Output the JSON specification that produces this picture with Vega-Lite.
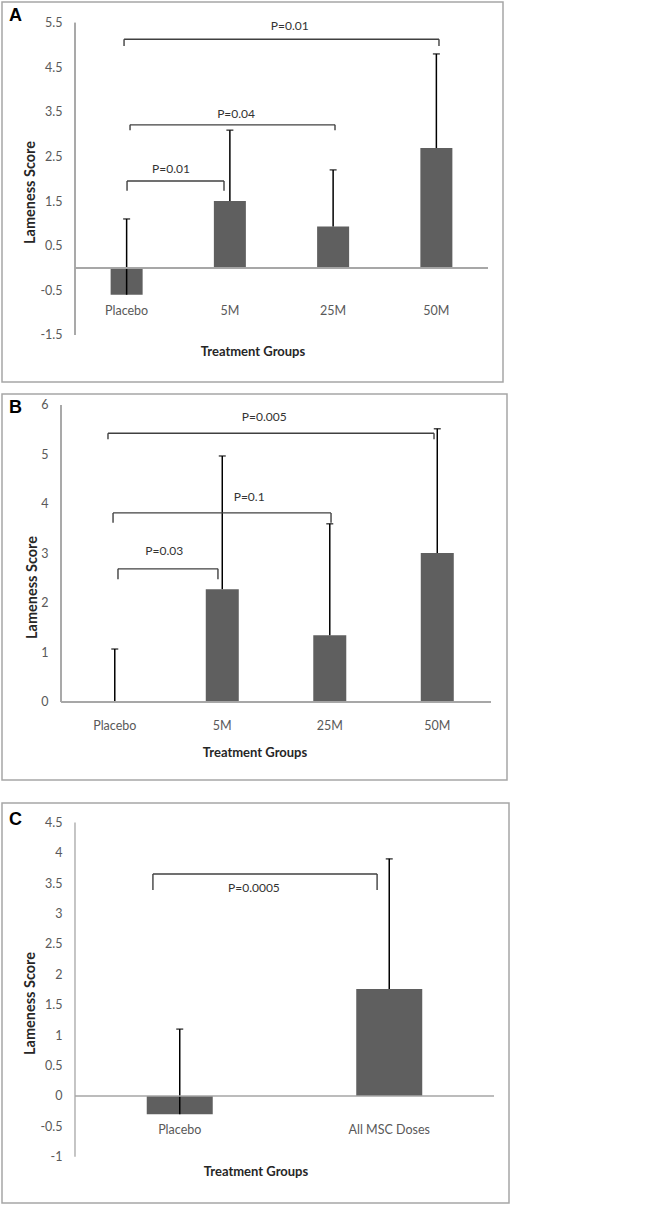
{
  "$schema": "https://vega.github.io/schema/vega-lite/v6.json",
  "background": "white",
  "padding": {"left": 1, "top": 1, "right": 0, "bottom": 0},
  "config": {
    "view": {"stroke": "#a6a6a6", "strokeWidth": 1.5},
    "axis": {"labelFont": "Lato", "labelFontSize": 12.5, "labelColor": "#595959", "titleFont": "Lato", "titleFontSize": 13, "titleFontWeight": "bold", "titleColor": "#262626", "domain": false, "ticks": false, "grid": false, "labelAngle": 0},
    "axisY": {"titleFontSize": 14.5},
    "title": {"anchor": "start", "frame": "group", "dx": 7, "fontSize": 18, "font": "Liberation Sans", "fontWeight": "bold", "baseline": "alphabetic", "color": "black"}
  },
  "spacing": 21,
  "vconcat": [
    {
      "spacing": 10,
      "vconcat": [
        {
          "width": 501, "height": 380,
          "title": {"text": "A", "offset": -23},
          "resolve": {"scale": {"x": "independent"}},
          "layer": [
            {
              "data": {"values": [
                {"group": "Placebo", "mean": -0.6, "upper": 1.1},
                {"group": "5M", "mean": 1.5, "upper": 3.09},
                {"group": "25M", "mean": 0.93, "upper": 2.2},
                {"group": "50M", "mean": 2.69, "upper": 4.8}
              ]},
              "encoding": {
                "x": {"field": "group", "type": "nominal", "sort": null, "scale": {"paddingInner": 0, "paddingOuter": 0.4262, "align": 0.8295}, "axis": {"title": "Treatment Groups", "orient": "bottom", "offset": -78, "labelPadding": 0, "titlePadding": 29}}
              },
              "layer": [
                {"mark": {"type": "bar", "color": "#5f5f5f", "width": {"band": 0.31}},
                 "encoding": {"y": {"field": "mean", "type": "quantitative", "stack": null, "scale": {"domain": [-2.556, 5.964], "nice": false, "zero": false}, "axis": {"title": "Lameness Score", "values": [-1.5, -0.5, 0.5, 1.5, 2.5, 3.5, 4.5, 5.5], "labelExpr": "'' + datum.value", "offset": -73, "titlePadding": 2, "labelPadding": 13}}, "y2": {"datum": 0}}},
                {"mark": {"type": "rule", "color": "black", "strokeWidth": 1.5},
                 "encoding": {"y": {"field": "mean", "type": "quantitative", "axis": {"title": "Lameness Score", "values": [-1.5, -0.5, 0.5, 1.5, 2.5, 3.5, 4.5, 5.5], "labelExpr": "'' + datum.value", "offset": -73, "titlePadding": 2, "labelPadding": 13}}, "y2": {"field": "upper"}}},
                {"mark": {"type": "tick", "color": "black", "thickness": 1.5, "size": 7, "orient": "horizontal"},
                 "encoding": {"y": {"field": "upper", "type": "quantitative", "axis": {"title": "Lameness Score", "values": [-1.5, -0.5, 0.5, 1.5, 2.5, 3.5, 4.5, 5.5], "labelExpr": "'' + datum.value", "offset": -73, "titlePadding": 2, "labelPadding": 13}}}}
              ]
            },
            {
              "data": {"values": [
                {"label": "P=0.01", "left": 0.475, "right": 3.525, "top": 5.13, "bottom": 4.98, "tx": 2.08, "ty": 5.43},
                {"label": "P=0.04", "left": 0.533, "right": 2.518, "top": 3.21, "bottom": 3.09, "tx": 1.56, "ty": 3.45},
                {"label": "P=0.01", "left": 0.504, "right": 1.443, "top": 1.95, "bottom": 1.73, "tx": 0.93, "ty": 2.22}
              ]},
              "layer": [
                {"mark": {"type": "rule", "color": "#a6a6a6", "strokeWidth": 1.3},
                 "encoding": {"x": {"datum": 0, "type": "quantitative", "scale": {"domain": [-0.707, 4.145], "nice": false, "zero": false}, "axis": null}, "x2": {"datum": 4}, "y": {"datum": 0, "type": "quantitative", "scale": {"domain": [-2.556, 5.964], "nice": false, "zero": false}, "axis": {"title": "Lameness Score", "values": [-1.5, -0.5, 0.5, 1.5, 2.5, 3.5, 4.5, 5.5], "labelExpr": "'' + datum.value", "offset": -73, "titlePadding": 2, "labelPadding": 13}}}},
                {"mark": {"type": "rule", "color": "#a6a6a6", "strokeWidth": 1.3},
                 "encoding": {"x": {"datum": 0, "type": "quantitative", "axis": null}, "y": {"datum": -1.5, "type": "quantitative", "axis": {"title": "Lameness Score", "values": [-1.5, -0.5, 0.5, 1.5, 2.5, 3.5, 4.5, 5.5], "labelExpr": "'' + datum.value", "offset": -73, "titlePadding": 2, "labelPadding": 13}}, "y2": {"datum": 5.5}}},
                {"mark": {"type": "rule", "color": "#404040", "strokeWidth": 1.4},
                 "encoding": {"x": {"field": "left", "type": "quantitative", "axis": null}, "x2": {"field": "right"}, "y": {"field": "top", "type": "quantitative", "axis": {"title": "Lameness Score", "values": [-1.5, -0.5, 0.5, 1.5, 2.5, 3.5, 4.5, 5.5], "labelExpr": "'' + datum.value", "offset": -73, "titlePadding": 2, "labelPadding": 13}}}},
                {"mark": {"type": "rule", "color": "#404040", "strokeWidth": 1.4},
                 "encoding": {"x": {"field": "left", "type": "quantitative", "axis": null}, "y": {"field": "top", "type": "quantitative", "axis": {"title": "Lameness Score", "values": [-1.5, -0.5, 0.5, 1.5, 2.5, 3.5, 4.5, 5.5], "labelExpr": "'' + datum.value", "offset": -73, "titlePadding": 2, "labelPadding": 13}}, "y2": {"field": "bottom"}}},
                {"mark": {"type": "rule", "color": "#404040", "strokeWidth": 1.4},
                 "encoding": {"x": {"field": "right", "type": "quantitative", "axis": null}, "y": {"field": "top", "type": "quantitative", "axis": {"title": "Lameness Score", "values": [-1.5, -0.5, 0.5, 1.5, 2.5, 3.5, 4.5, 5.5], "labelExpr": "'' + datum.value", "offset": -73, "titlePadding": 2, "labelPadding": 13}}, "y2": {"field": "bottom"}}},
                {"mark": {"type": "text", "font": "Lato", "fontSize": 12, "color": "#333333", "align": "center", "baseline": "middle"},
                 "encoding": {"x": {"field": "tx", "type": "quantitative", "axis": null}, "y": {"field": "ty", "type": "quantitative", "axis": {"title": "Lameness Score", "values": [-1.5, -0.5, 0.5, 1.5, 2.5, 3.5, 4.5, 5.5], "labelExpr": "'' + datum.value", "offset": -73, "titlePadding": 2, "labelPadding": 13}}, "text": {"field": "label"}}}
              ]
            }
          ]
        },
        {
          "width": 505, "height": 386,
          "title": {"text": "B", "offset": -23},
          "resolve": {"scale": {"x": "independent"}},
          "layer": [
            {
              "data": {"values": [
                {"group": "Placebo", "mean": 0, "upper": 1.07},
                {"group": "5M", "mean": 2.28, "upper": 4.97},
                {"group": "25M", "mean": 1.35, "upper": 3.6},
                {"group": "50M", "mean": 3.01, "upper": 5.52}
              ]},
              "encoding": {
                "x": {"field": "group", "type": "nominal", "sort": null, "scale": {"paddingInner": 0, "paddingOuter": 0.3488, "align": 0.787}, "axis": {"title": "Treatment Groups", "orient": "bottom", "offset": -61, "labelPadding": 0, "titlePadding": 15}}
              },
              "layer": [
                {"mark": {"type": "bar", "color": "#5f5f5f", "width": {"band": 0.307}},
                 "encoding": {"y": {"field": "mean", "type": "quantitative", "stack": null, "scale": {"domain": [-1.576, 6.222], "nice": false, "zero": false}, "axis": {"title": "Lameness Score", "values": [0, 1, 2, 3, 4, 5, 6], "labelExpr": "'' + datum.value", "offset": -59, "titlePadding": 1, "labelPadding": 13}}, "y2": {"datum": 0}}},
                {"mark": {"type": "rule", "color": "black", "strokeWidth": 1.5},
                 "encoding": {"y": {"field": "mean", "type": "quantitative", "axis": {"title": "Lameness Score", "values": [0, 1, 2, 3, 4, 5, 6], "labelExpr": "'' + datum.value", "offset": -59, "titlePadding": 1, "labelPadding": 13}}, "y2": {"field": "upper"}}},
                {"mark": {"type": "tick", "color": "black", "thickness": 1.5, "size": 7, "orient": "horizontal"},
                 "encoding": {"y": {"field": "upper", "type": "quantitative", "axis": {"title": "Lameness Score", "values": [0, 1, 2, 3, 4, 5, 6], "labelExpr": "'' + datum.value", "offset": -59, "titlePadding": 1, "labelPadding": 13}}}}
              ]
            },
            {
              "data": {"values": [
                {"label": "P=0.005", "left": 0.437, "right": 3.47, "top": 5.43, "bottom": 5.31, "tx": 1.89, "ty": 5.76},
                {"label": "P=0.1", "left": 0.484, "right": 2.512, "top": 3.82, "bottom": 3.62, "tx": 1.75, "ty": 4.14},
                {"label": "P=0.03", "left": 0.53, "right": 1.46, "top": 2.69, "bottom": 2.48, "tx": 0.96, "ty": 3.05}
              ]},
              "layer": [
                {"mark": {"type": "rule", "color": "#a6a6a6", "strokeWidth": 1.3},
                 "encoding": {"x": {"datum": 0, "type": "quantitative", "scale": {"domain": [-0.549, 4.149], "nice": false, "zero": false}, "axis": null}, "x2": {"datum": 4}, "y": {"datum": 0, "type": "quantitative", "scale": {"domain": [-1.576, 6.222], "nice": false, "zero": false}, "axis": {"title": "Lameness Score", "values": [0, 1, 2, 3, 4, 5, 6], "labelExpr": "'' + datum.value", "offset": -59, "titlePadding": 1, "labelPadding": 13}}}},
                {"mark": {"type": "rule", "color": "#a6a6a6", "strokeWidth": 1.3},
                 "encoding": {"x": {"datum": 0, "type": "quantitative", "axis": null}, "y": {"datum": 0, "type": "quantitative", "axis": {"title": "Lameness Score", "values": [0, 1, 2, 3, 4, 5, 6], "labelExpr": "'' + datum.value", "offset": -59, "titlePadding": 1, "labelPadding": 13}}, "y2": {"datum": 6}}},
                {"mark": {"type": "rule", "color": "#404040", "strokeWidth": 1.4},
                 "encoding": {"x": {"field": "left", "type": "quantitative", "axis": null}, "x2": {"field": "right"}, "y": {"field": "top", "type": "quantitative", "axis": {"title": "Lameness Score", "values": [0, 1, 2, 3, 4, 5, 6], "labelExpr": "'' + datum.value", "offset": -59, "titlePadding": 1, "labelPadding": 13}}}},
                {"mark": {"type": "rule", "color": "#404040", "strokeWidth": 1.4},
                 "encoding": {"x": {"field": "left", "type": "quantitative", "axis": null}, "y": {"field": "top", "type": "quantitative", "axis": {"title": "Lameness Score", "values": [0, 1, 2, 3, 4, 5, 6], "labelExpr": "'' + datum.value", "offset": -59, "titlePadding": 1, "labelPadding": 13}}, "y2": {"field": "bottom"}}},
                {"mark": {"type": "rule", "color": "#404040", "strokeWidth": 1.4},
                 "encoding": {"x": {"field": "right", "type": "quantitative", "axis": null}, "y": {"field": "top", "type": "quantitative", "axis": {"title": "Lameness Score", "values": [0, 1, 2, 3, 4, 5, 6], "labelExpr": "'' + datum.value", "offset": -59, "titlePadding": 1, "labelPadding": 13}}, "y2": {"field": "bottom"}}},
                {"mark": {"type": "text", "font": "Lato", "fontSize": 12, "color": "#333333", "align": "center", "baseline": "middle"},
                 "encoding": {"x": {"field": "tx", "type": "quantitative", "axis": null}, "y": {"field": "ty", "type": "quantitative", "axis": {"title": "Lameness Score", "values": [0, 1, 2, 3, 4, 5, 6], "labelExpr": "'' + datum.value", "offset": -59, "titlePadding": 1, "labelPadding": 13}}, "text": {"field": "label"}}}
              ]
            }
          ]
        }
      ]
    },
    {
      "width": 507, "height": 400,
      "title": {"text": "C", "offset": -26},
      "resolve": {"scale": {"x": "independent"}},
      "layer": [
        {
          "data": {"values": [
            {"group": "Placebo", "mean": -0.3, "upper": 1.1},
            {"group": "All MSC Doses", "mean": 1.76, "upper": 3.9}
          ]},
          "encoding": {
            "x": {"field": "group", "type": "nominal", "sort": null, "scale": {"paddingInner": 0, "paddingOuter": 0.21, "align": 0.8295}, "axis": {"title": "Treatment Groups", "orient": "bottom", "offset": -80, "labelPadding": 0, "titlePadding": 30}}
          },
          "layer": [
            {"mark": {"type": "bar", "color": "#5f5f5f", "width": {"band": 0.315}},
             "encoding": {"y": {"field": "mean", "type": "quantitative", "stack": null, "scale": {"domain": [-1.76, 4.819], "nice": false, "zero": false}, "axis": {"title": "Lameness Score", "values": [-1, -0.5, 0, 0.5, 1, 1.5, 2, 2.5, 3, 3.5, 4, 4.5], "labelExpr": "'' + datum.value", "offset": -73, "titlePadding": 2, "labelPadding": 13}}, "y2": {"datum": 0}}},
            {"mark": {"type": "rule", "color": "black", "strokeWidth": 1.5},
             "encoding": {"y": {"field": "mean", "type": "quantitative", "axis": {"title": "Lameness Score", "values": [-1, -0.5, 0, 0.5, 1, 1.5, 2, 2.5, 3, 3.5, 4, 4.5], "labelExpr": "'' + datum.value", "offset": -73, "titlePadding": 2, "labelPadding": 13}}, "y2": {"field": "upper"}}},
            {"mark": {"type": "tick", "color": "black", "thickness": 1.5, "size": 7, "orient": "horizontal"},
             "encoding": {"y": {"field": "upper", "type": "quantitative", "axis": {"title": "Lameness Score", "values": [-1, -0.5, 0, 0.5, 1, 1.5, 2, 2.5, 3, 3.5, 4, 4.5], "labelExpr": "'' + datum.value", "offset": -73, "titlePadding": 2, "labelPadding": 13}}}}
          ]
        },
        {
          "data": {"values": [
            {"label": "P=0.0005", "left": 0.372, "right": 1.442, "top": 3.65, "bottom": 3.39, "tx": 0.854, "ty": 3.42}
          ]},
          "layer": [
            {"mark": {"type": "rule", "color": "#a6a6a6", "strokeWidth": 1.3},
             "encoding": {"x": {"datum": 0, "type": "quantitative", "scale": {"domain": [-0.3484, 2.0716], "nice": false, "zero": false}, "axis": null}, "x2": {"datum": 2}, "y": {"datum": 0, "type": "quantitative", "scale": {"domain": [-1.76, 4.819], "nice": false, "zero": false}, "axis": {"title": "Lameness Score", "values": [-1, -0.5, 0, 0.5, 1, 1.5, 2, 2.5, 3, 3.5, 4, 4.5], "labelExpr": "'' + datum.value", "offset": -73, "titlePadding": 2, "labelPadding": 13}}}},
            {"mark": {"type": "rule", "color": "#a6a6a6", "strokeWidth": 1.3},
             "encoding": {"x": {"datum": 0, "type": "quantitative", "axis": null}, "y": {"datum": -1, "type": "quantitative", "axis": {"title": "Lameness Score", "values": [-1, -0.5, 0, 0.5, 1, 1.5, 2, 2.5, 3, 3.5, 4, 4.5], "labelExpr": "'' + datum.value", "offset": -73, "titlePadding": 2, "labelPadding": 13}}, "y2": {"datum": 4.5}}},
            {"mark": {"type": "rule", "color": "#404040", "strokeWidth": 1.4},
             "encoding": {"x": {"field": "left", "type": "quantitative", "axis": null}, "x2": {"field": "right"}, "y": {"field": "top", "type": "quantitative", "axis": {"title": "Lameness Score", "values": [-1, -0.5, 0, 0.5, 1, 1.5, 2, 2.5, 3, 3.5, 4, 4.5], "labelExpr": "'' + datum.value", "offset": -73, "titlePadding": 2, "labelPadding": 13}}}},
            {"mark": {"type": "rule", "color": "#404040", "strokeWidth": 1.4},
             "encoding": {"x": {"field": "left", "type": "quantitative", "axis": null}, "y": {"field": "top", "type": "quantitative", "axis": {"title": "Lameness Score", "values": [-1, -0.5, 0, 0.5, 1, 1.5, 2, 2.5, 3, 3.5, 4, 4.5], "labelExpr": "'' + datum.value", "offset": -73, "titlePadding": 2, "labelPadding": 13}}, "y2": {"field": "bottom"}}},
            {"mark": {"type": "rule", "color": "#404040", "strokeWidth": 1.4},
             "encoding": {"x": {"field": "right", "type": "quantitative", "axis": null}, "y": {"field": "top", "type": "quantitative", "axis": {"title": "Lameness Score", "values": [-1, -0.5, 0, 0.5, 1, 1.5, 2, 2.5, 3, 3.5, 4, 4.5], "labelExpr": "'' + datum.value", "offset": -73, "titlePadding": 2, "labelPadding": 13}}, "y2": {"field": "bottom"}}},
            {"mark": {"type": "text", "font": "Lato", "fontSize": 12, "color": "#333333", "align": "center", "baseline": "middle"},
             "encoding": {"x": {"field": "tx", "type": "quantitative", "axis": null}, "y": {"field": "ty", "type": "quantitative", "axis": {"title": "Lameness Score", "values": [-1, -0.5, 0, 0.5, 1, 1.5, 2, 2.5, 3, 3.5, 4, 4.5], "labelExpr": "'' + datum.value", "offset": -73, "titlePadding": 2, "labelPadding": 13}}, "text": {"field": "label"}}}
          ]
        }
      ]
    }
  ]
}
